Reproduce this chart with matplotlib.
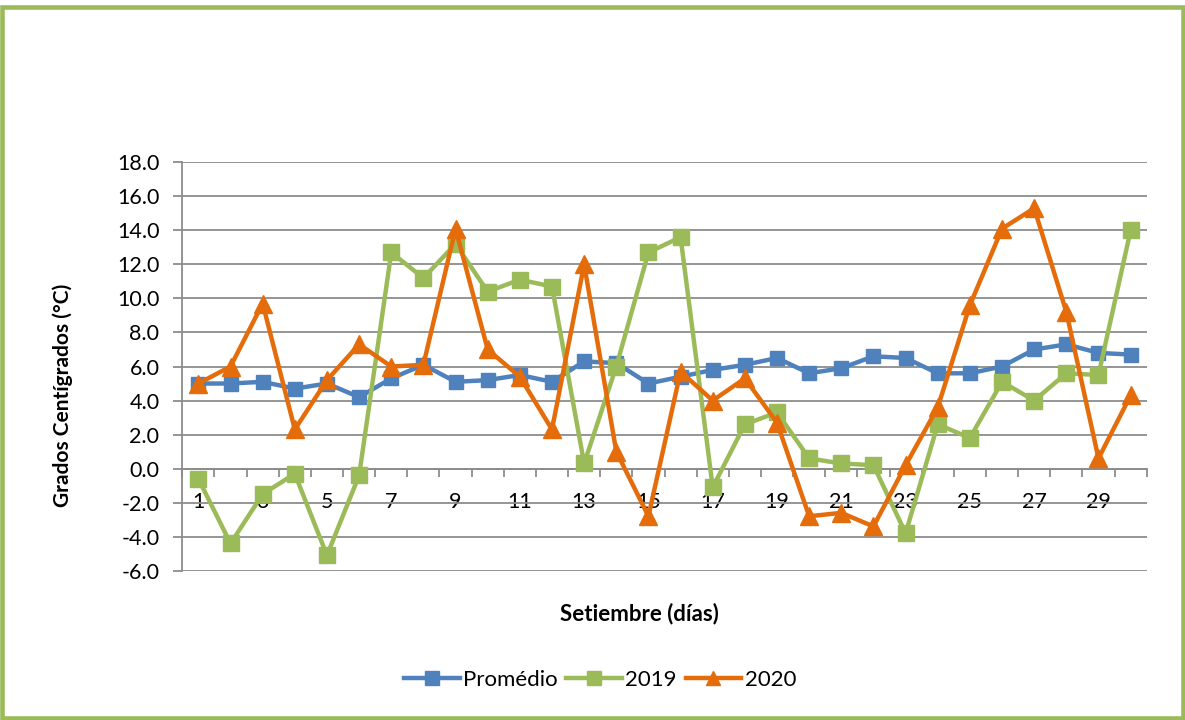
import numpy as np
import matplotlib
matplotlib.use("Agg")
import matplotlib.pyplot as plt
from matplotlib.patches import Rectangle
from matplotlib.lines import Line2D

# Days of September (categories)
days = list(range(1, 31))

# Series values (°C)
promedio = [5.0, 5.0, 5.1, 4.7, 5.0, 4.2, 5.3, 6.1, 5.1, 5.2,
            5.5, 5.1, 6.3, 6.2, 5.0, 5.4, 5.8, 6.1, 6.5, 5.6,
            5.9, 6.6, 6.5, 5.6, 5.6, 6.0, 7.0, 7.3, 6.8, 6.7]
y2019 = [-0.6, -4.4, -1.5, -0.3, -5.1, -0.4, 12.7, 11.2, 13.2, 10.4,
         11.1, 10.7, 0.3, 6.0, 12.7, 13.6, -1.1, 2.6, 3.3, 0.6,
         0.3, 0.2, -3.8, 2.6, 1.8, 5.1, 4.0, 5.6, 5.5, 14.0]
y2020 = [5.0, 6.0, 9.7, 2.3, 5.2, 7.3, 6.0, 6.1, 14.1, 7.0,
         5.4, 2.3, 12.0, 1.0, -2.8, 5.7, 4.0, 5.3, 2.7, -2.8,
         -2.6, -3.4, 0.2, 3.6, 9.6, 14.1, 15.3, 9.2, 0.6, 4.3]

series_names = ["Promédio", "2019", "2020"]
yticks = [-6, -4, -2, 0, 2, 4, 6, 8, 10, 12, 14, 16, 18]

c_blue, c_green, c_orange = "#4F81BD", "#9BBB59", "#E46C0A"
grid_c = "#8C8C8C"

plt.rcParams['font.family'] = ['Lato', 'DejaVu Sans']

fig = plt.figure(figsize=(11.85, 7.2), dpi=100)
ax = fig.add_axes([182.3 / 1185, 1 - 570.7 / 720, (1146.7 - 182.3) / 1185, (570.7 - 162.3) / 720])

ax.plot(days, promedio, color=c_blue, lw=3.2, marker="s", ms=10, zorder=3)
ax.plot(days, y2019, color=c_green, lw=3.2, marker="s", ms=11.5, zorder=4)
ax.plot(days, y2020, color=c_orange, lw=3.2, marker="^", ms=12.5, zorder=5)

ax.set_xlim(0.5, 30.5)
ax.set_ylim(-6, 18)
ax.set_yticks(yticks)
ax.set_yticklabels([f"{v:.1f}" for v in yticks])
ax.yaxis.grid(True, color=grid_c, lw=1.3)
ax.set_axisbelow(True)

for s in ["top", "right"]:
    ax.spines[s].set_visible(False)
ax.spines["left"].set_color(grid_c)
ax.spines["left"].set_linewidth(1.3)
ax.spines["bottom"].set_position(("data", 0))
ax.spines["bottom"].set_color(grid_c)
ax.spines["bottom"].set_linewidth(1.3)

# tick marks between categories, labels on odd days
ax.set_xticks(np.arange(0.5, 31, 1))
ax.set_xticklabels([])
ax.set_xticks(days[::2], minor=True)
ax.set_xticklabels([str(d) for d in days[::2]], minor=True)
ax.tick_params(axis="x", which="major", length=6, width=1.3, color=grid_c, direction="out")
ax.tick_params(axis="x", which="minor", length=0, pad=17, labelsize=15.5)
ax.tick_params(axis="y", length=6.5, width=1.3, color=grid_c, direction="out", pad=10, labelsize=15.5)

fig.text(63 / 1185, 1 - 395 / 720, "Grados Centígrados (°C)", rotation=90,
         ha="center", va="center", fontsize=15, fontweight="bold")
fig.text(639 / 1185, 1 - 614 / 720, "Setiembre (días)", ha="center", va="center",
         fontsize=16, fontweight="bold")

handles = [Line2D([], [], color=c_blue, lw=3.2, marker="s", ms=10),
           Line2D([], [], color=c_green, lw=3.2, marker="s", ms=10),
           Line2D([], [], color=c_orange, lw=3.2, marker="^", ms=10)]
fig.legend(handles, series_names, loc="center", bbox_to_anchor=(600 / 1185, 1 - 680 / 720),
           ncol=3, frameon=False, fontsize=16, handlelength=2.5, handletextpad=0.15,
           columnspacing=0.4)

fig.patches.append(Rectangle((2.3 / 1185, 2 / 720), (1183 - 2.3) / 1185, (713.5 - 2) / 720,
                             transform=fig.transFigure, fill=False,
                             edgecolor=c_green, lw=3.3, zorder=10))

fig.savefig("out.png", dpi=100)
